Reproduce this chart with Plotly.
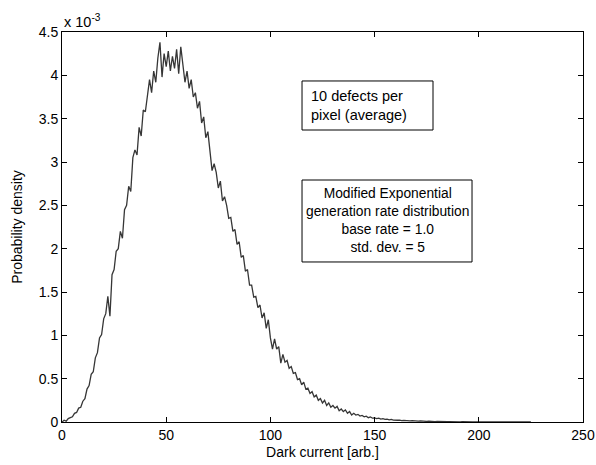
import plotly.graph_objects as go

# Dark current values (arb.), one sample per unit
dark_current = list(range(0, 226))

# Probability density in units of 1e-3
density_e3 = [
    # 0-10
    0.00, 0.02, 0.01, 0.04, 0.05, 0.06, 0.10, 0.11, 0.16, 0.17, 0.24,
    # 11-20
    0.27, 0.38, 0.42, 0.55, 0.58, 0.74, 0.80, 0.97, 1.01, 1.19,
    # 21-30
    1.25, 1.45, 1.22, 1.70, 1.76, 1.97, 2.00, 2.20, 2.12, 2.45,
    # 31-40
    2.50, 2.72, 2.66, 3.05, 3.14, 3.08, 3.40, 3.30, 3.60, 3.58,
    # 41-50
    3.78, 3.95, 3.80, 4.05, 3.92, 4.20, 4.38, 3.98, 4.25, 4.10,
    # 51-60
    4.28, 4.05, 4.22, 4.08, 4.30, 4.02, 4.33, 4.10, 3.92, 4.05,
    # 61-70
    3.85, 3.95, 3.75, 3.80, 3.62, 3.70, 3.45, 3.52, 3.28, 3.35,
    # 71-80
    3.10, 2.90, 2.98, 2.88, 2.70, 2.78, 2.55, 2.60, 2.50, 2.35,
    # 81-90
    2.36, 2.20, 2.22, 2.05, 2.08, 1.90, 1.92, 1.74, 1.76, 1.58,
    # 91-100
    1.58, 1.44, 1.45, 1.32, 1.35, 1.20, 1.26, 1.08, 1.18, 0.97,
    # 101-110
    0.84, 0.96, 0.84, 0.87, 0.68, 0.78, 0.69, 0.71, 0.62, 0.64,
    # 111-120
    0.56, 0.57, 0.49, 0.50, 0.43, 0.46, 0.38, 0.39, 0.33, 0.35,
    # 121-130
    0.29, 0.31, 0.25, 0.27, 0.22, 0.25, 0.19, 0.22, 0.17, 0.19,
    # 131-140
    0.16, 0.18, 0.13, 0.15, 0.12, 0.14, 0.10, 0.12, 0.08, 0.10,
    # 141-150
    0.080, 0.088, 0.068, 0.075, 0.060, 0.068, 0.050, 0.058, 0.044, 0.048,
    # 151-160
    0.040, 0.045, 0.034, 0.038, 0.030, 0.034, 0.025, 0.030, 0.022, 0.025,
    # 161-170
    0.020, 0.022, 0.016, 0.019, 0.014, 0.017, 0.012, 0.015, 0.011, 0.013,
    # 171-180
    0.010, 0.012, 0.008, 0.010, 0.007, 0.009, 0.006, 0.008, 0.005, 0.007,
    # 181-190
    0.005, 0.006, 0.004, 0.005, 0.003, 0.005, 0.003, 0.004, 0.002, 0.004,
    # 191-200
    0.002, 0.003, 0.001, 0.003, 0.002, 0.002, 0.001, 0.002, 0.001, 0.002,
    # 201-210
    0.001, 0.000, 0.001, 0.001, 0.000, 0.001, 0.000, 0.000, 0.001, 0.000,
    # 211-220
    0.000, 0.001, 0.000, 0.000, 0.001, 0.000, 0.000, 0.000, 0.001, 0.000,
    # 221-225
    0.000, 0.000, 0.000, 0.000, 0.000,
]

x_ticks = [0, 50, 100, 150, 200, 250]
y_ticks = [0, 0.5, 1, 1.5, 2, 2.5, 3, 3.5, 4, 4.5]
y_tick_labels = ["0", "0.5", "1", "1.5", "2", "2.5", "3", "3.5", "4", "4.5"]

box1_text = "10 defects per<br>pixel (average)"
box2_text = ("Modified Exponential<br>generation rate distribution"
             "<br>base rate = 1.0<br>std. dev. = 5")

FONT = "Liberation Sans, Arial, sans-serif"

fig = go.Figure()
fig.add_trace(go.Scatter(
    x=dark_current, y=density_e3, mode="lines",
    line=dict(color="#363636", width=1.3), showlegend=False,
))

axis_common = dict(
    showline=True, linecolor="black", linewidth=1, mirror="ticks",
    ticks="inside", ticklen=5, tickcolor="black", tickwidth=1,
    showgrid=False, zeroline=False, automargin=False,
    tickfont=dict(family=FONT, size=14, color="black"),
)

fig.update_layout(
    width=596, height=465,
    margin=dict(l=62, r=13, t=32, b=43),
    paper_bgcolor="white", plot_bgcolor="white",
    font=dict(family=FONT, size=14, color="black"),
    xaxis=dict(range=[0, 250], tickvals=x_ticks, **axis_common,
               title=dict(text="Dark current [arb.]",
                          font=dict(family=FONT, size=14), standoff=5)),
    yaxis=dict(range=[0, 4.5], tickvals=y_ticks, ticktext=y_tick_labels,
               **axis_common,
               title=dict(text="Probability density",
                          font=dict(family=FONT, size=14), standoff=12)),
    shapes=[
        dict(type="rect", xref="paper", yref="paper",
             x0=0.4607, x1=0.7121, y0=0.7487, y1=0.8744,
             line=dict(color="black", width=1), fillcolor="white", layer="above"),
        dict(type="rect", xref="paper", yref="paper",
             x0=0.4607, x1=0.7870, y0=0.4103, y1=0.6205,
             line=dict(color="black", width=1), fillcolor="white", layer="above"),
    ],
    annotations=[
        dict(text="x 10<sup>-3</sup>", xref="paper", yref="paper",
             x=0, y=1, xanchor="left", yanchor="bottom", showarrow=False,
             font=dict(family=FONT, size=14.5), yshift=0),
        dict(text=box1_text, xref="paper", yref="paper",
             x=0.4607, y=0.8115, xanchor="left", yanchor="middle",
             xshift=7, showarrow=False, align="left",
             font=dict(family=FONT, size=14.5)),
        dict(text=box2_text, xref="paper", yref="paper",
             x=(0.4607 + 0.7870) / 2, y=(0.4103 + 0.6205) / 2,
             xanchor="center", yanchor="middle", showarrow=False,
             align="center", font=dict(family=FONT, size=13.8)),
    ],
)

fig.write_html("out.html")
